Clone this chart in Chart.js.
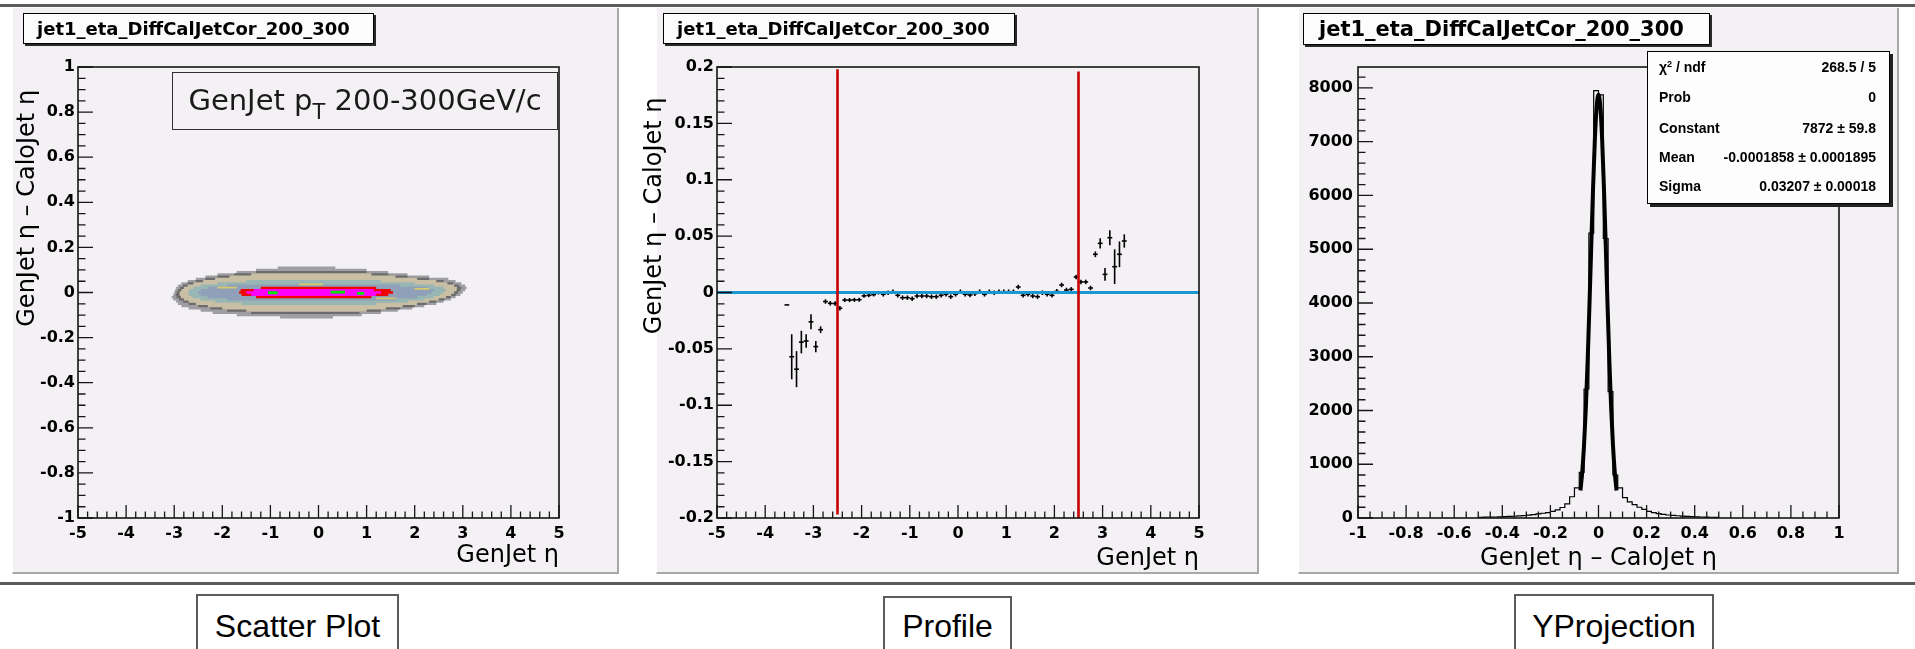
<!DOCTYPE html>
<html lang="en">
<head>
<meta charset="utf-8">
<title>jet1_eta_DiffCalJetCor_200_300</title>
<script src="https://cdn.jsdelivr.net/npm/chart.js@4.4.1/dist/chart.umd.min.js"></script>
<style>
	html, body { margin: 0; padding: 0; background: #ffffff; }
	body { position: relative; width: 1915px; height: 649px; overflow: hidden; font-family: 'DejaVu Sans', sans-serif; color: #000; }
	.rule { position: absolute; left: 0; width: 1915px; height: 3px; background: #5b5b5b; }
	.pad { position: absolute; top: 8px; height: 564px; background: #f4f1f5; border-left: 1px solid #ffffff; border-right: 2px solid #a8a8a8; border-bottom: 2px solid #a8a8a8; }
	canvas { position: absolute; top: 8px; }
	.htitle { position: absolute; top: 13px; height: 31px; box-sizing: border-box; border: 1px solid #000; background: #fcfcfc; box-shadow: 2px 2px 0 #2a2a2a; font-weight: bold; font-size: 18px; line-height: 29px; padding-left: 13px; white-space: nowrap; z-index: 2; }
	.ptbox { position: absolute; left: 172px; top: 72px; width: 386px; height: 58px; box-sizing: border-box; border: 1.5px solid #303030; font-size: 29px; line-height: 55px; text-align: center; white-space: nowrap; color: #1a1a1a; z-index: 2; }
	.ptbox .sub { font-size: 21px; position: relative; top: 9px; }
	.stats { position: absolute; left: 1647px; top: 51px; width: 243px; height: 153px; box-sizing: border-box; border: 1px solid #000; background: #fdfdfd; box-shadow: 3px 3px 0 #222; font-family: 'Liberation Sans', Arial, sans-serif; font-weight: bold; font-size: 14px; z-index: 2; }
	.stats .row { position: absolute; left: 11px; right: 13px; height: 18px; line-height: 18px; display: flex; justify-content: space-between; white-space: nowrap; }
	.stats sup { font-size: 9px; vertical-align: 0; position: relative; top: -5px; }
	.caption { position: absolute; top: 594px; height: 70px; box-sizing: border-box; border: 2px solid #5c5c5c; background: #fff; font-family: 'Liberation Sans', Arial, sans-serif; font-size: 32px; line-height: 32px; padding-top: 14px; text-align: center; white-space: nowrap; }
</style>
</head>
<body>

<div class="rule" style="top:4px"></div>
<div class="rule" style="top:582px"></div>

<div class="pad" style="left:12px; width:604px"></div>
<div class="pad" style="left:656px; width:600px"></div>
<div class="pad" style="left:1298px; width:598px"></div>

<canvas id="scatterChart" width="620" height="565" style="left:0px"></canvas>
<canvas id="profileChart" width="630" height="565" style="left:630px"></canvas>
<canvas id="projectionChart" width="630" height="565" style="left:1275px"></canvas>

<div class="htitle" style="left:23px; width:351px">jet1_eta_DiffCalJetCor_200_300</div>
<div class="htitle" style="left:663px; width:352px">jet1_eta_DiffCalJetCor_200_300</div>
<div class="htitle" style="left:1303px; width:407px; height:32px; font-size:21px; line-height:30px; padding-left:15px">jet1_eta_DiffCalJetCor_200_300</div>

<div class="ptbox">GenJet p<span class="sub">T</span> 200-300GeV/c</div>

<div class="stats">
	<div class="row" style="top:6px"><span>χ<sup>2</sup> / ndf</span><span>268.5 / 5</span></div>
	<div class="row" style="top:36px"><span>Prob</span><span>0</span></div>
	<div class="row" style="top:67px"><span>Constant</span><span>7872 ± 59.8</span></div>
	<div class="row" style="top:96px"><span>Mean</span><span>-0.0001858 ± 0.0001895</span></div>
	<div class="row" style="top:125px"><span>Sigma</span><span>0.03207 ± 0.00018</span></div>
</div>

<div class="caption" style="left:196px; width:203px">Scatter Plot</div>
<div class="caption" style="left:883px; top:596px; width:129px; padding-top:12px">Profile</div>
<div class="caption" style="left:1514px; width:200px">YProjection</div>

<script>
// ---- axis tick labels
const etaTicks = [-5, -4, -3, -2, -1, 0, 1, 2, 3, 4, 5];
const scatterDiffTicks = [-1, -0.8, -0.6, -0.4, -0.2, 0, 0.2, 0.4, 0.6, 0.8, 1];
const profileDiffTicks = [-0.2, -0.15, -0.1, -0.05, 0, 0.05, 0.1, 0.15, 0.2];
const projectionDiffTicks = [-1, -0.8, -0.6, -0.4, -0.2, 0, 0.2, 0.4, 0.6, 0.8, 1];
const projectionCountTicks = [0, 1000, 2000, 3000, 4000, 5000, 6000, 7000, 8000];

// ---- scatter plot: filled density bands, one row per 0.01 of (GenJet eta - CaloJet eta)
// each row: [row centre, GenJet eta low, GenJet eta high]
const scatterRowHalf = 0.005;

const scatterBandOuter = [
	[0.11, -0.85, 0.35], [0.10, -1.3, 1.0], [0.09, -1.7, 1.45], [0.08, -2.1, 1.85],
	[0.07, -2.35, 2.3], [0.06, -2.55, 2.7], [0.05, -2.72, 2.85], [0.04, -2.85, 2.97],
	[0.03, -2.92, 3.05], [0.02, -2.96, 3.08], [0.01, -2.98, 3.05], [0.00, -3.0, 3.0],
	[-0.01, -3.02, 2.95], [-0.02, -3.05, 2.85], [-0.03, -3.02, 2.75], [-0.04, -2.96, 2.6],
	[-0.05, -2.92, 2.45], [-0.06, -2.85, 2.2], [-0.07, -2.7, 1.95], [-0.08, -2.45, 1.65],
	[-0.09, -2.2, 1.3], [-0.10, -1.7, 0.9], [-0.11, -0.8, 0.3]
];
const scatterBandRing = [
	[0.09, -1.3, 1.0], [0.08, -1.75, 1.45], [0.07, -2.1, 1.85], [0.06, -2.35, 2.3],
	[0.05, -2.55, 2.6], [0.04, -2.72, 2.8], [0.03, -2.82, 2.92], [0.02, -2.88, 2.97],
	[0.01, -2.92, 2.95], [0.00, -2.95, 2.9], [-0.01, -2.97, 2.85], [-0.02, -2.95, 2.75],
	[-0.03, -2.9, 2.62], [-0.04, -2.82, 2.45], [-0.05, -2.7, 2.25], [-0.06, -2.5, 2.0],
	[-0.07, -2.25, 1.7], [-0.08, -1.9, 1.3], [-0.09, -1.4, 0.85]
];
const scatterBandTan = [
	[0.08, -1.4, 1.1], [0.07, -1.85, 1.6], [0.06, -2.15, 2.05], [0.05, -2.4, 2.45],
	[0.04, -2.6, 2.68], [0.03, -2.72, 2.82], [0.02, -2.8, 2.88], [0.01, -2.85, 2.87],
	[0.00, -2.88, 2.82], [-0.01, -2.9, 2.76], [-0.02, -2.86, 2.65], [-0.03, -2.8, 2.5],
	[-0.04, -2.7, 2.3], [-0.05, -2.55, 2.05], [-0.06, -2.3, 1.75], [-0.07, -2.0, 1.4],
	[-0.08, -1.5, 1.0]
];
const scatterBandTeal = [
	[0.05, -1.5, 1.3], [0.04, -2.1, 2.0], [0.03, -2.45, 2.4], [0.02, -2.6, 2.6],
	[0.01, -2.68, 2.65], [0.00, -2.7, 2.6], [-0.01, -2.7, 2.52], [-0.02, -2.62, 2.4],
	[-0.03, -2.45, 2.2], [-0.04, -2.15, 1.85], [-0.05, -1.6, 1.2]
];
const scatterBandSlate = [
	[0.03, -1.9, 1.7], [0.02, -2.3, 2.25], [0.01, -2.45, 2.4], [0.00, -2.5, 2.35],
	[-0.01, -2.45, 2.25], [-0.02, -2.3, 2.05], [-0.03, -1.9, 1.6]
];
const scatterBandRed = [
	[0.02, -1.2, 1.2], [0.01, -1.62, 1.5], [0.00, -1.65, 1.55], [-0.01, -1.6, 1.45], [-0.02, -1.3, 1.1]
];
const scatterBandMagenta = [
	[0.01, -1.35, 1.15], [0.00, -1.5, 1.3], [-0.01, -1.4, 1.2]
];
// isolated cells: [eta low, eta high, diff low, diff high]
const scatterSpotsYellow = [
	[-2.1, -1.7, 0.018, 0.026], [1.2, 1.6, -0.03, -0.022], [-0.4, 0.1, 0.032, 0.04], [2.0, 2.3, 0.012, 0.02]
];
const scatterSpotsGreen = [
	[-1.05, -0.85, -0.008, 0.006], [0.25, 0.55, -0.004, 0.008], [0.8, 0.95, -0.01, 0.002]
];

// ---- profile: mean (GenJet eta - CaloJet eta) per GenJet eta bin
const profileEta = [
	-3.55, -3.45, -3.35, -3.25, -3.15, -3.05, -2.95, -2.85, -2.75, -2.65,
	-2.55, -2.45, -2.35, -2.25, -2.15, -2.05, -1.95, -1.85, -1.75, -1.65,
	-1.55, -1.45, -1.35, -1.25, -1.15, -1.05, -0.95, -0.85, -0.75, -0.65,
	-0.55, -0.45, -0.35, -0.25, -0.15, -0.05, 0.05, 0.15, 0.25, 0.35,
	0.45, 0.55, 0.65, 0.75, 0.85, 0.95, 1.05, 1.15, 1.25, 1.35,
	1.45, 1.55, 1.65, 1.75, 1.85, 1.95, 2.05, 2.15, 2.25, 2.35,
	2.45, 2.55, 2.65, 2.75, 2.85, 2.95, 3.05, 3.15, 3.25, 3.35,
	3.45
];
const profileMean = [
	-0.011, -0.057, -0.068, -0.044, -0.043, -0.026, -0.048, -0.033, -0.008, -0.0096,
	-0.0098, -0.014, -0.0067, -0.0067, -0.0065, -0.0064, -0.0030, -0.0025, -0.0019, -0.0002,
	-0.0016, -0.0002, 0.0007, -0.0025, -0.0046, -0.0046, -0.0055, -0.0031, -0.0031, -0.0031,
	-0.0037, -0.0037, -0.0025, -0.0016, -0.0037, -0.0016, 0.0007, -0.0016, -0.0022, -0.0010,
	0.0007, -0.0016, 0.0007, -0.0002, 0.0007, 0.0007, 0.0007, 0.0007, 0.0049, -0.0025,
	-0.0016, -0.0031, -0.0037, -0.0002, -0.0016, -0.0025, 0.0010, 0.0067, 0.0022, 0.0028,
	0.0137, 0.0094, 0.0094, 0.0040, 0.0339, 0.0436, 0.0161, 0.0486, 0.0229, 0.0339,
	0.0457
];
const profileErr = [
	0, 0.020, 0.016, 0.010, 0.006, 0.0067, 0.005, 0.003, 0.002, 0.002,
	0.002, 0.002, 0.0018, 0.0018, 0.0018, 0.0018, 0.0017, 0.0017, 0.0016, 0.0016,
	0.002, 0.002, 0.002, 0.002, 0.002, 0.002, 0.002, 0.002, 0.002, 0.002,
	0.002, 0.002, 0.002, 0.002, 0.002, 0.002, 0.002, 0.002, 0.002, 0.002,
	0.002, 0.002, 0.002, 0.002, 0.002, 0.002, 0.002, 0.002, 0.002, 0.002,
	0.002, 0.002, 0.002, 0.002, 0.002, 0.002, 0.002, 0.002, 0.002, 0.002,
	0.002, 0.002, 0.002, 0.002, 0.0025, 0.0045, 0.0056, 0.0067, 0.0154, 0.0114,
	0.0059
];
const profileHalfBin = 0.05;
const profileFitLevel = 0;
// barrel/endcap boundaries marked on the profile
const cutEta = [-2.5, 2.5];
const cutTop = [0.198, 0.196];
const cutBottom = [-0.197, -0.2];

// ---- y projection: counts per 0.02 bin, with the gaussian fit as drawn
const histEdges = [
	-0.5, -0.48, -0.46, -0.44, -0.42, -0.4, -0.38, -0.36, -0.34, -0.32,
	-0.3, -0.28, -0.26, -0.24, -0.22, -0.2, -0.18, -0.16, -0.14, -0.12,
	-0.1, -0.08, -0.06, -0.04, -0.02, 0, 0.02, 0.04, 0.06, 0.08,
	0.1, 0.12, 0.14, 0.16, 0.18, 0.2, 0.22, 0.24, 0.26, 0.28,
	0.3, 0.32, 0.34, 0.36, 0.38, 0.4, 0.42, 0.44, 0.46, 0.48,
	0.5
];
const histCounts = [
	13, 15, 17, 19, 22, 25, 29, 33, 38, 45,
	54, 64, 76, 88, 100, 122, 152, 195, 262, 395,
	560, 850, 2400, 5300, 7950, 7870, 5200, 2350, 800, 560,
	380, 300, 250, 200, 160, 125, 100, 80, 68, 56,
	48, 42, 34, 29, 25, 22, 19, 17, 14, 10
];
const fitEta = [
	-0.075, -0.0675, -0.06, -0.0525, -0.045, -0.0375, -0.03, -0.0225, -0.015, -0.0075, 0,
	0.0075, 0.015, 0.0225, 0.03, 0.0375, 0.045, 0.0525, 0.06, 0.0675, 0.075
];
const fitCounts = [
	511, 859, 1368, 2061, 2941, 3973, 5082, 6154, 7057, 7659, 7872,
	7659, 7057, 6154, 5082, 3973, 2941, 2061, 1368, 859, 511
];
</script>

<script>
;(function (window, document, undefined) {
	'use strict';

	Chart.defaults.font.family = 'DejaVu Sans';
	Chart.defaults.color = '#000';

	let tickFont	= {family: 'DejaVu Sans', weight: 'bold', size: 16};
	let titleFont	= {family: 'DejaVu Sans', size: 24};

	// walk a scale in minor steps, flag the ones that land on a major step
	function eachTick(scale, major, minor, fn) {
		let n = Math.floor((scale.max - scale.min) / minor + 1e-6);
		for (let i = 0; i <= n; i++) {
			let v = scale.min + i * minor;
			let isMajor = Math.abs(v / major - Math.round(v / major)) < 1e-6;
			fn(scale.getPixelForValue(v), isMajor);
		}
	}

	// ROOT look: ticks pointing into the frame, box closed on all four sides
	let rootFrame = {
		id: 'rootFrame',
		afterDatasetsDraw: function (chart, args, opts) {
			let ctx	= chart.ctx;
			let a	= chart.chartArea;
			ctx.save();
			ctx.strokeStyle = '#151515';
			ctx.lineWidth = 1.3;
			ctx.beginPath();
			eachTick(chart.scales.x, opts.xMajor, opts.xMinor, function (px, major) {
				ctx.moveTo(px, a.bottom);
				ctx.lineTo(px, a.bottom - (major ? 13 : 6.5));
			});
			eachTick(chart.scales.y, opts.yMajor, opts.yMinor, function (py, major) {
				ctx.moveTo(a.left, py);
				ctx.lineTo(a.left + (major ? 15 : 7.5), py);
			});
			ctx.stroke();
			ctx.lineWidth = 1.6;
			ctx.strokeRect(a.left, a.top, a.right - a.left, a.bottom - a.top);
			ctx.restore();
		}
	};

	function label(digits) {
		return function (v) { return String(+Number(v).toFixed(digits)); };
	}

	function fixedTicks(values) {
		return function (s) {
			s.ticks = values.map(function (v) { return {value: v}; });
		};
	}

	function xAxis(min, max, values, digits, text, align, titlePad, height) {
		return {
			type: 'linear', position: 'bottom', min: min, max: max,
			afterBuildTicks: fixedTicks(values),
			ticks: {autoSkip: false, maxRotation: 0, padding: 6, color: '#000', font: tickFont, callback: label(digits)},
			grid: {display: false, drawTicks: false},
			border: {display: false},
			title: {display: true, text: text, align: align, color: '#000', font: titleFont, padding: {top: 0, bottom: titlePad}},
			afterFit: function (s) { s.height = height; }
		};
	}

	function yAxis(min, max, values, digits, text, titlePad, labelPad, width) {
		return {
			type: 'linear', position: 'left', min: min, max: max,
			afterBuildTicks: fixedTicks(values),
			ticks: {autoSkip: false, padding: labelPad, color: '#000', font: tickFont, callback: label(digits)},
			grid: {display: false, drawTicks: false},
			border: {display: false},
			title: {display: !!text, text: text, align: 'end', color: '#000', font: titleFont, padding: {top: titlePad, bottom: 0}},
			afterFit: function (s) { s.width = width; }
		};
	}

	function baseOptions(padding, scales, frame) {
		return {
			responsive: false,
			animation: false,
			devicePixelRatio: 1,
			events: [],
			layout: {padding: padding},
			scales: scales,
			plugins: {legend: {display: false}, tooltip: {enabled: false}, rootFrame: frame}
		};
	}

	// closed staircase outline of a band built from its rows
	function bandShape(rows) {
		let pts = [];
		let down = rows.slice().sort(function (a, b) { return b[0] - a[0]; });
		down.forEach(function (r) {
			pts.push({x: r[2], y: r[0] + scatterRowHalf}, {x: r[2], y: r[0] - scatterRowHalf});
		});
		down.slice().reverse().forEach(function (r) {
			pts.push({x: r[1], y: r[0] - scatterRowHalf}, {x: r[1], y: r[0] + scatterRowHalf});
		});
		pts.push(pts[0]);
		return pts;
	}

	function spotShapes(rects) {
		let pts = [];
		rects.forEach(function (s) {
			pts.push({x: s[0], y: s[2]}, {x: s[1], y: s[2]}, {x: s[1], y: s[3]}, {x: s[0], y: s[3]}, {x: s[0], y: s[2]}, {x: null, y: null});
		});
		return pts;
	}

	function filled(points, color, order) {
		return {
			data: points, showLine: true, fill: 'shape',
			backgroundColor: color, borderColor: 'rgba(0,0,0,0)', borderWidth: 1,
			pointRadius: 0, order: order
		};
	}

	// ---------- scatter plot
	let bands = [
		{rows: scatterBandOuter,	color: '#9e9ea3', order: 10},
		{rows: scatterBandRing,		color: '#6c6c6c', order: 9},
		{rows: scatterBandTan,		color: '#c9bfa5', order: 8},
		{rows: scatterBandTeal,		color: '#98b6b4', order: 7},
		{rows: scatterBandSlate,	color: '#8fa0b8', order: 6},
		{rows: scatterBandRed,		color: '#f00000', order: 4},
		{rows: scatterBandMagenta,	color: '#ff00ff', order: 3}
	];
	let scatterSets = bands.map(function (b) { return filled(bandShape(b.rows), b.color, b.order); });
	scatterSets.push(filled(spotShapes(scatterSpotsYellow), '#d8ca6c', 5));
	scatterSets.push(filled(spotShapes(scatterSpotsGreen), '#00e600', 2));

	new Chart(document.getElementById('scatterChart').getContext('2d'), {
		type: 'scatter',
		data: {datasets: scatterSets},
		options: baseOptions({left: 0, top: 59, right: 61, bottom: 0}, {
			x: xAxis(-5, 5, etaTicks, 1, 'GenJet η', 'end', 3, 55),
			y: yAxis(-1, 1, scatterDiffTicks, 1, 'GenJet η – CaloJet η   ', 13, 3, 78)
		}, {xMajor: 1, xMinor: 0.2, yMajor: 0.2, yMinor: 0.05}),
		plugins: [rootFrame]
	});

	// ---------- profile
	let profilePoints = profileEta.map(function (x, i) { return {x: x, y: profileMean[i]}; });

	let markerBase = {
		data: profilePoints, showLine: false, pointStyle: 'line',
		pointBorderColor: '#000', pointBackgroundColor: '#000', pointBorderWidth: 1.6, order: 3
	};
	let binBars = Object.assign({}, markerBase, {
		pointRadius: function (c) {
			let xs = c.chart.scales.x;
			return Math.abs(xs.getPixelForValue(profileHalfBin) - xs.getPixelForValue(0));
		}
	});
	let errBars = Object.assign({}, markerBase, {
		pointRotation: 90,
		pointRadius: function (c) {
			let ys = c.chart.scales.y;
			return Math.abs(ys.getPixelForValue(profileErr[c.dataIndex]) - ys.getPixelForValue(0));
		}
	});
	let fitLine = {
		data: [{x: -5, y: profileFitLevel}, {x: 5, y: profileFitLevel}],
		showLine: true, borderColor: '#1a98d4', borderWidth: 3, pointRadius: 0, order: 1
	};
	let cutLines = cutEta.map(function (x, i) {
		return {
			data: [{x: x, y: cutTop[i]}, {x: x, y: cutBottom[i]}],
			showLine: true, borderColor: '#c80000', borderWidth: 2.6, pointRadius: 0, order: 0
		};
	});

	new Chart(document.getElementById('profileChart').getContext('2d'), {
		type: 'scatter',
		data: {datasets: [binBars, errBars, fitLine].concat(cutLines)},
		options: baseOptions({left: 0, top: 59, right: 61, bottom: 0}, {
			x: xAxis(-5, 5, etaTicks, 1, 'GenJet η', 'end', 0, 55),
			y: yAxis(-0.2, 0.2, profileDiffTicks, 2, 'GenJet η – CaloJet η    ', 10, 3, 87)
		}, {xMajor: 1, xMinor: 0.2, yMajor: 0.05, yMinor: 0.01}),
		plugins: [rootFrame]
	});

	// ---------- y projection
	let histPoints = [{x: histEdges[0], y: 0}];
	histCounts.forEach(function (c, i) { histPoints.push({x: histEdges[i], y: c}); });
	histPoints.push({x: histEdges[histEdges.length - 1], y: 0});

	let fitPoints = fitEta.map(function (x, i) { return {x: x, y: fitCounts[i]}; });

	new Chart(document.getElementById('projectionChart').getContext('2d'), {
		type: 'scatter',
		data: {
			datasets: [
				{data: fitPoints, showLine: true, cubicInterpolationMode: 'monotone', borderColor: '#000', borderWidth: 4, pointRadius: 0, order: 0},
				{data: histPoints, showLine: true, stepped: true, borderColor: '#000', borderWidth: 1.2, pointRadius: 0, order: 1}
			]
		},
		options: baseOptions({left: 0, top: 59, right: 66, bottom: 0}, {
			x: xAxis(-1, 1, projectionDiffTicks, 1, 'GenJet η – CaloJet η', 'center', 0, 55),
			y: yAxis(0, 8390, projectionCountTicks, 0, '', 0, 5, 83)
		}, {xMajor: 0.2, xMinor: 0.05, yMajor: 1000, yMinor: 200}),
		plugins: [rootFrame]
	});

})(window, document);
</script>
</body>
</html>
